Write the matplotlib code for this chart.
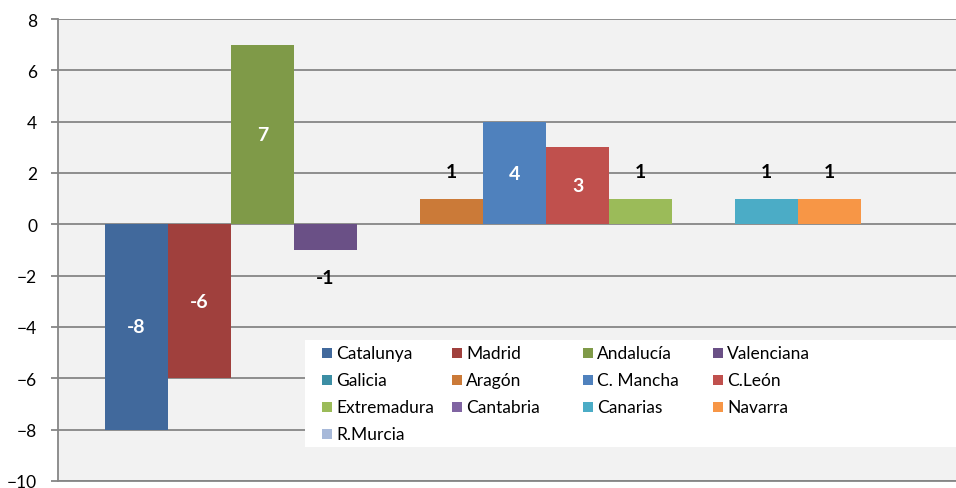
import matplotlib
matplotlib.use('Agg')
import matplotlib.pyplot as plt
from matplotlib.patches import Rectangle

# one value per region (single category chart)
regions = ['Catalunya', 'Madrid', 'Andalucía', 'Valenciana', 'Galicia',
           'Aragón', 'C. Mancha', 'C.León', 'Extremadura', 'Cantabria',
           'Canarias', 'Navarra', 'R.Murcia']
values = [-8, -6, 7, -1, 0, 1, 4, 3, 1, 0, 1, 1, 0]
colors = ['#41699C', '#A0403D', '#7F9A48', '#6A5086', '#3C8EA4',
          '#CB7A38', '#4F81BD', '#C0504D', '#9BBB59', '#8064A2',
          '#4BACC6', '#F79646', '#A7B9D9']
# labels drawn inside (white) for the tall bars, outside (black) otherwise
inside = [True, True, True, False, False, False, True, True, False,
          False, False, False, False]
yticks = list(range(-10, 9, 2))

plt.rcParams['font.family'] = ['Lato', 'DejaVu Sans']
grey = '#868686'

fig = plt.figure(figsize=(9.56, 4.89), dpi=100)
# plot area runs past the right edge, like the cropped original
ax = fig.add_axes([58 / 956, 7 / 489, 913 / 956, 462 / 489])
ax.set_facecolor('#F2F2F2')

xs = list(range(len(values)))
ax.bar(xs, values, width=1.0, color=colors, zorder=3)

for x, v, ins in zip(xs, values, inside):
    if v == 0:
        continue
    if ins:
        ax.text(x, v / 2, str(v), color='white', fontsize=14,
                fontweight='bold', ha='center', va='center', zorder=4)
    else:
        off = 19.5 if v > 0 else -19.5
        ax.annotate(str(v), (x, v), xytext=(0, off), textcoords='offset points',
                    color='black', fontsize=14, fontweight='bold',
                    ha='center', va='center', zorder=4)

pad_units = 47 / 63
ax.set_xlim(-0.5 - pad_units, len(values) - 0.5 + pad_units)
ax.set_ylim(-10, 8)
ax.set_yticks(yticks)
ax.set_xticks([])
ax.yaxis.grid(True, color=grey, linewidth=1.3, zorder=1)
ax.set_axisbelow(True)
ax.tick_params(axis='y', length=5, width=1.3, color=grey, pad=10,
               labelsize=12.5)
for side in ['top', 'right']:
    ax.spines[side].set_visible(False)
for side in ['left', 'bottom']:
    ax.spines[side].set_color(grey)
    ax.spines[side].set_linewidth(1.3)

# legend laid out row-wise in a white box, like Excel does it
def fx(px):
    return (px - 58) / 913


def fy(py):
    return (482 - py) / 462


ax.add_patch(Rectangle((fx(305), fy(448)), fx(990) - fx(305), fy(341) - fy(448),
                       transform=ax.transAxes, facecolor='white',
                       edgecolor='none', zorder=5))
col_x = [322, 452, 583, 713]
row_y = [354, 381, 408, 435]
for i, (name, c) in enumerate(zip(regions, colors)):
    r, k = divmod(i, 4)
    x0, y0 = col_x[k], row_y[r]
    ax.add_patch(Rectangle((fx(x0), fy(y0 + 5)), 10 / 913, 10 / 462,
                           transform=ax.transAxes, facecolor=c,
                           edgecolor='none', zorder=6))
    ax.text(fx(x0 + 14), fy(y0), name, transform=ax.transAxes,
            fontsize=12.5, va='center', ha='left', color='black', zorder=6)

fig.savefig('out.png', dpi=100)
